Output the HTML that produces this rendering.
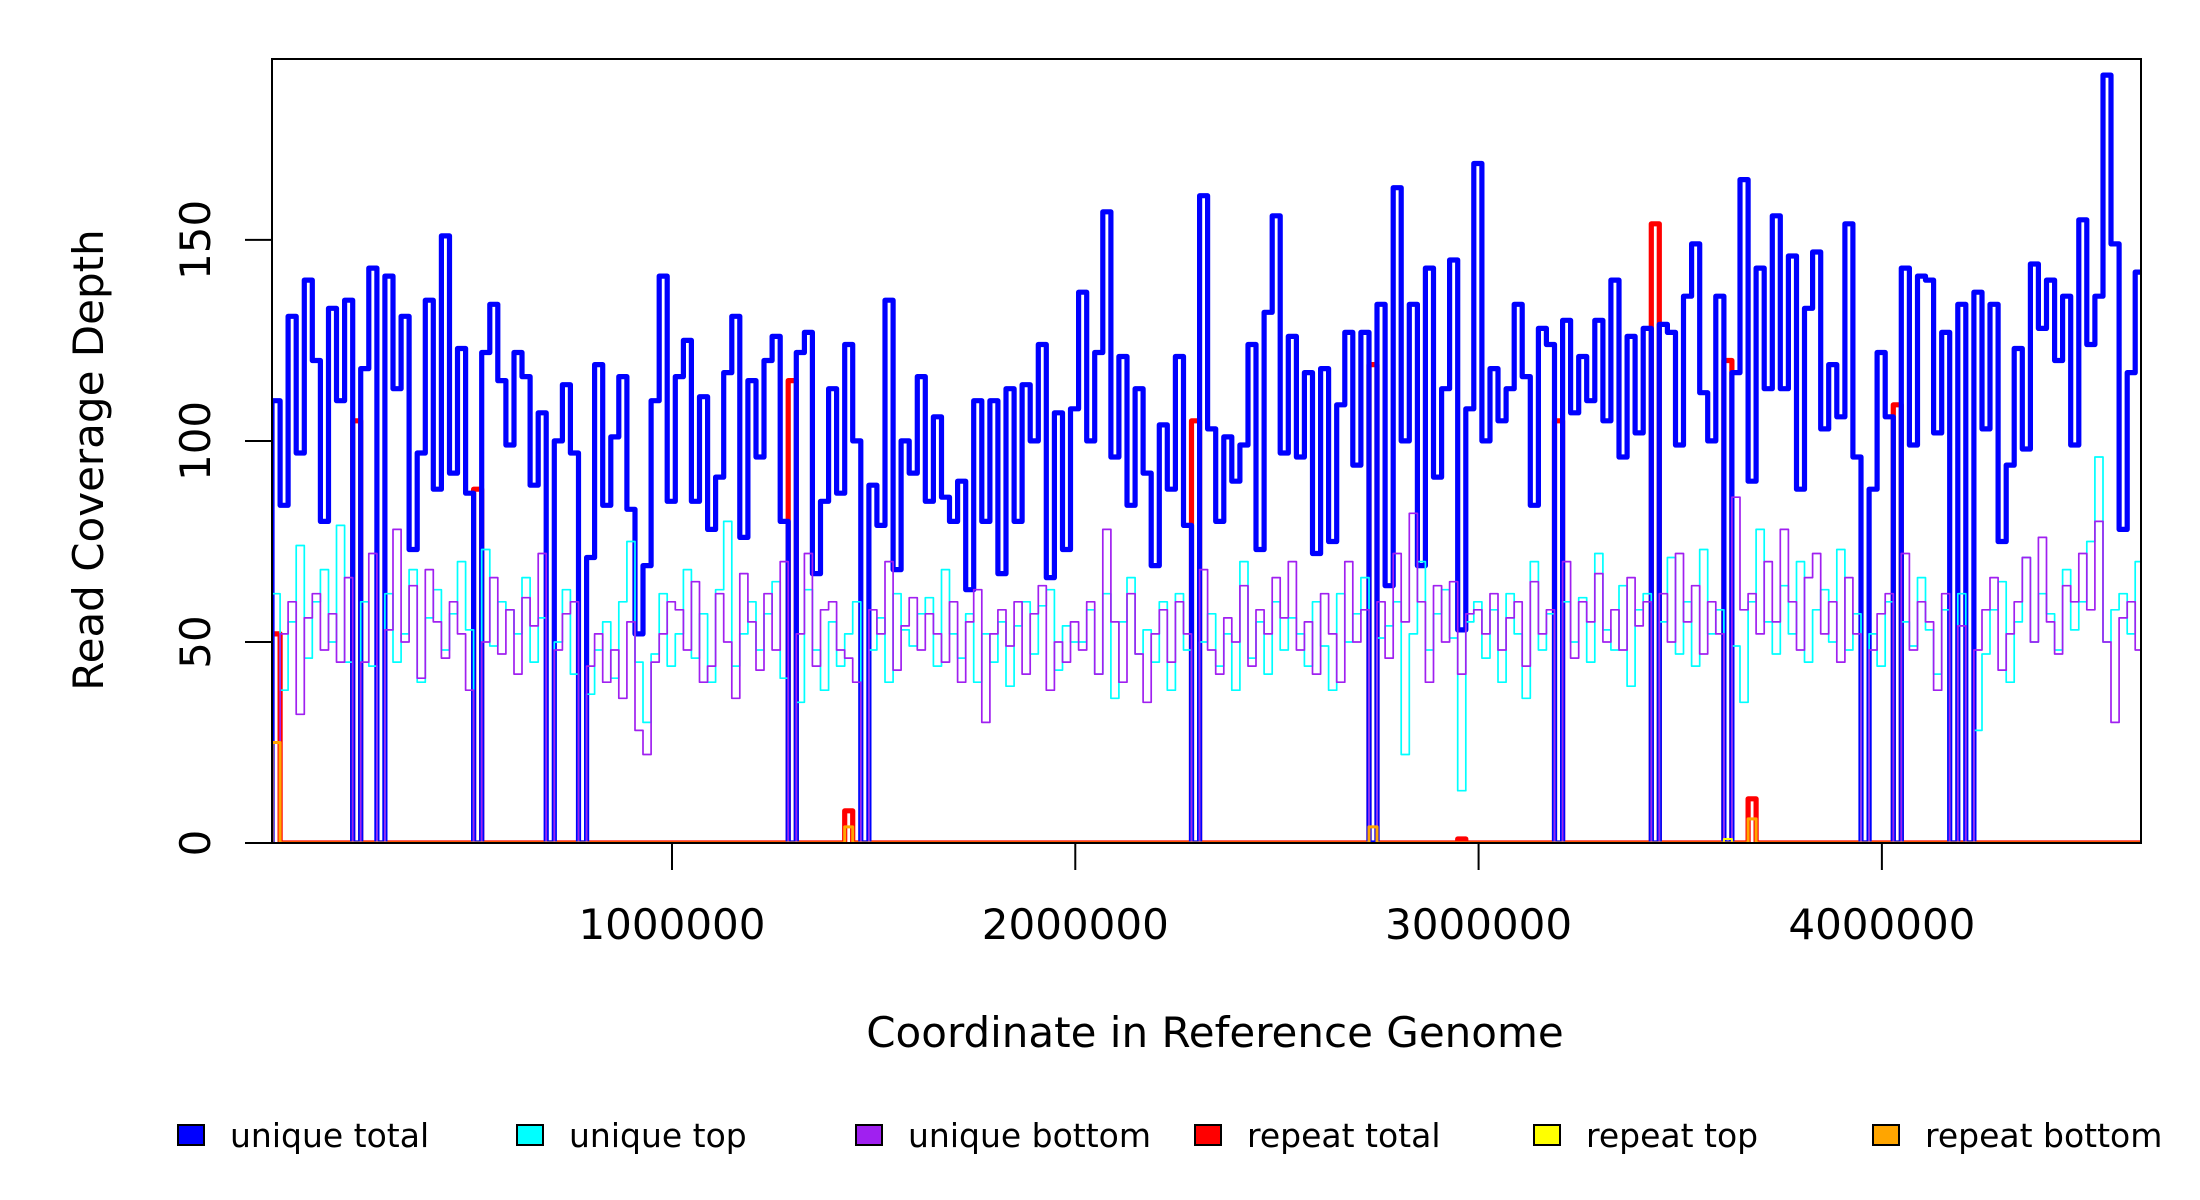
<!DOCTYPE html>
<html><head><meta charset="utf-8"><style>
html,body{margin:0;padding:0;background:#fff;}
svg{display:block;font-family:"DejaVu Sans","Liberation Sans",sans-serif;}
</style></head><body>
<svg id="chart" width="2200" height="1200" viewBox="0 0 2200 1200" xmlns="http://www.w3.org/2000/svg">
<defs><clipPath id="plotclip"><rect x="272" y="59" width="1869" height="784"/></clipPath></defs>
<g id="series" clip-path="url(#plotclip)"></g>
<rect x="272" y="59" width="1869" height="784" fill="none" stroke="#000" stroke-width="2"/>
<g id="yaxis"></g>
<g id="xaxis"></g>
<text transform="translate(103,460) rotate(-90)" text-anchor="middle" font-size="42">Read Coverage Depth</text>
<text x="1215" y="1047" text-anchor="middle" font-size="42">Coordinate in Reference Genome</text>
<g id="legend"></g>
</svg>
<script>
const binStart = 8200;
const binWidth = 20000;
const xDomain = [8200, 4642500];
const yDomain = [0, 195];
const yTicks = [0, 50, 100, 150];
const xTicks = [1000000, 2000000, 3000000, 4000000];
const xTickLabels = ["1000000", "2000000", "3000000", "4000000"];

const uniqueTotal = [110,84,131,97,140,120,80,133,110,135,0,118,143,0,141,113,131,73,97,135,88,151,92,123,87,0,122,134,115,99,122,116,89,107,0,100,114,97,0,71,119,84,101,116,83,52,69,110,141,85,
116,125,85,111,78,91,117,131,76,115,96,120,126,80,0,122,127,67,85,113,87,124,100,0,89,79,135,68,100,92,116,85,106,86,80,90,63,110,80,110,67,113,80,114,100,124,66,107,73,108,
137,100,122,157,96,121,84,113,92,69,104,88,121,79,0,161,103,80,101,90,99,124,73,132,156,97,126,96,117,72,118,75,109,127,94,127,0,134,64,163,100,134,69,143,91,113,145,53,108,169,
100,118,105,113,134,116,84,128,124,0,130,107,121,110,130,105,140,96,126,102,128,0,129,127,99,136,149,112,100,136,0,117,165,90,143,113,156,113,146,88,133,147,103,119,106,154,96,0,88,122,
106,0,143,99,141,140,102,127,0,134,0,137,103,134,75,94,123,98,144,128,140,120,136,99,155,124,136,191,149,78,117,142];

const uniqueTop = [62,38,55,74,46,60,68,50,79,45,0,60,44,0,62,45,52,68,40,56,63,48,57,70,53,0,73,49,60,58,52,66,45,56,0,50,63,42,0,37,48,55,41,60,75,45,30,47,62,44,
52,68,46,57,40,63,80,44,52,60,48,57,65,41,0,35,63,48,38,55,44,52,60,0,48,56,40,62,53,49,57,61,44,68,52,46,57,40,52,45,55,39,54,60,47,59,63,43,54,50,
50,58,42,62,36,55,66,47,53,45,60,38,62,48,0,50,57,44,52,38,70,46,55,42,60,48,56,52,44,60,49,38,62,50,57,66,0,51,54,60,22,52,70,48,57,63,51,13,55,60,
46,58,40,62,52,36,70,48,57,0,60,50,61,45,72,53,48,64,39,58,62,0,55,71,47,60,44,73,52,58,0,49,35,60,78,55,47,64,52,70,45,58,63,50,73,48,57,0,52,44,
60,0,55,49,66,53,42,58,0,62,0,28,47,58,65,40,55,71,50,62,57,48,68,53,60,75,96,50,58,62,52,70];

const uniqueBottom = [25,52,60,32,56,62,48,57,45,66,0,45,72,0,53,78,50,64,41,68,55,46,60,52,38,0,50,66,47,58,42,61,54,72,0,48,57,60,0,44,52,40,48,36,55,28,22,45,52,60,
58,48,65,40,44,62,50,36,67,55,43,62,48,70,0,52,72,44,58,60,48,46,40,0,58,52,70,43,54,61,48,57,52,45,60,40,55,63,30,52,58,49,60,42,57,64,38,50,45,55,
48,60,42,78,55,40,62,47,35,52,58,45,60,52,0,68,48,42,56,50,64,44,58,52,66,56,70,48,55,42,62,52,40,70,50,58,0,60,46,72,55,82,60,40,64,50,65,42,57,58,
52,62,48,56,60,44,65,52,58,0,70,46,60,55,67,50,58,48,66,54,60,0,62,50,72,55,64,47,60,52,0,86,58,62,52,70,55,78,60,48,66,72,52,60,45,66,52,0,48,57,
62,0,72,48,60,55,38,62,0,54,0,48,58,66,43,52,60,71,50,76,55,47,64,60,72,58,80,50,30,56,60,48];

const repeatTotalBins = [0,10,25,64,71,114,136,147,159,171,180,183,201];
const repeatTotalVals = [52,105,88,115,8,105,119,1,105,154,120,11,109];
const repeatTopBins = [180];
const repeatTopVals = [1];
const repeatBottomBins = [0,71,136,183];
const repeatBottomVals = [25,4,4,6];

const PX0 = 272, PX1 = 2141, PY0 = 843, PY1 = 59;
function xs(bp){ return PX0 + (bp - xDomain[0]) / (xDomain[1] - xDomain[0]) * (PX1 - PX0); }
function ys(v){ return PY0 - (v - yDomain[0]) / (yDomain[1] - yDomain[0]) * (PY0 - PY1); }
const NS = "http://www.w3.org/2000/svg";
const nBins = uniqueTotal.length;

function expand(bins, vals){
  const out = new Array(nBins).fill(0);
  bins.forEach((b, k) => { out[b] = vals[k]; });
  return out;
}
function stepPath(vals){
  let d = "M" + xs(binStart).toFixed(1) + " " + ys(0).toFixed(1);
  for (let i = 0; i < vals.length; i++) {
    const xa = xs(binStart + i * binWidth), xb = xs(binStart + (i + 1) * binWidth);
    d += " L" + xa.toFixed(1) + " " + ys(vals[i]).toFixed(1) + " L" + xb.toFixed(1) + " " + ys(vals[i]).toFixed(1);
  }
  return d;
}
const seriesG = document.getElementById("series");
function addSeries(vals, color, w, name){
  const p = document.createElementNS(NS, "path");
  p.setAttribute("d", stepPath(vals));
  p.setAttribute("fill", "none");
  p.setAttribute("stroke", color);
  p.setAttribute("stroke-width", w);
  p.setAttribute("stroke-linejoin", "round");
  
  
  seriesG.appendChild(p);
}
addSeries(expand(repeatTotalBins, repeatTotalVals), "#FF0000", 5.2, "repeat-total-line");
addSeries(uniqueTotal, "#0000FF", 5.2, "unique-total-line");
addSeries(uniqueTop, "#00FFFF", 1.7, "unique-top-line");
addSeries(uniqueBottom, "#A020F0", 1.7, "unique-bottom-line");
addSeries(expand(repeatTopBins, repeatTopVals), "#FFFF00", 2, "repeat-top-line");
addSeries(expand(repeatBottomBins, repeatBottomVals), "#FFA500", 3, "repeat-bottom-line");

const yAx = document.getElementById("yaxis");
yTicks.forEach(t => {
  const l = document.createElementNS(NS, "line");
  l.setAttribute("x1", 245); l.setAttribute("x2", 272);
  l.setAttribute("y1", ys(t)); l.setAttribute("y2", ys(t));
  l.setAttribute("stroke", "#000"); l.setAttribute("stroke-width", 2);
  
  
  yAx.appendChild(l);
  const tx = document.createElementNS(NS, "text");
  tx.setAttribute("transform", "translate(210," + ys(t) + ") rotate(-90)");
  tx.setAttribute("text-anchor", "middle");
  tx.setAttribute("font-size", "42");
  tx.textContent = String(t);
  
  
  yAx.appendChild(tx);
});
const xAx = document.getElementById("xaxis");
xTicks.forEach((t, k) => {
  const l = document.createElementNS(NS, "line");
  l.setAttribute("x1", xs(t)); l.setAttribute("x2", xs(t));
  l.setAttribute("y1", 843); l.setAttribute("y2", 870);
  l.setAttribute("stroke", "#000"); l.setAttribute("stroke-width", 2);
  
  
  xAx.appendChild(l);
  const tx = document.createElementNS(NS, "text");
  tx.setAttribute("x", xs(t)); tx.setAttribute("y", 939);
  tx.setAttribute("text-anchor", "middle");
  tx.setAttribute("font-size", "42");
  tx.textContent = xTickLabels[k];
  
  
  xAx.appendChild(tx);
});

const legendLabels = ["unique total","unique top","unique bottom","repeat total","repeat top","repeat bottom"];
const legendColors = ["#0000FF","#00FFFF","#A020F0","#FF0000","#FFFF00","#FFA500"];
const legG = document.getElementById("legend");
legendLabels.forEach((lab, k) => {
  const bx = 178 + k * 339;
  const r = document.createElementNS(NS, "rect");
  r.setAttribute("x", bx); r.setAttribute("y", 1125);
  r.setAttribute("width", 26); r.setAttribute("height", 20);
  r.setAttribute("fill", legendColors[k]); r.setAttribute("stroke", "#000"); r.setAttribute("stroke-width", 2);
  
  
  legG.appendChild(r);
  const tx = document.createElementNS(NS, "text");
  tx.setAttribute("x", bx + 52); tx.setAttribute("y", 1147);
  tx.setAttribute("font-size", "33");
  tx.textContent = lab;
  
  
  legG.appendChild(tx);
});
</script>
</body></html>
